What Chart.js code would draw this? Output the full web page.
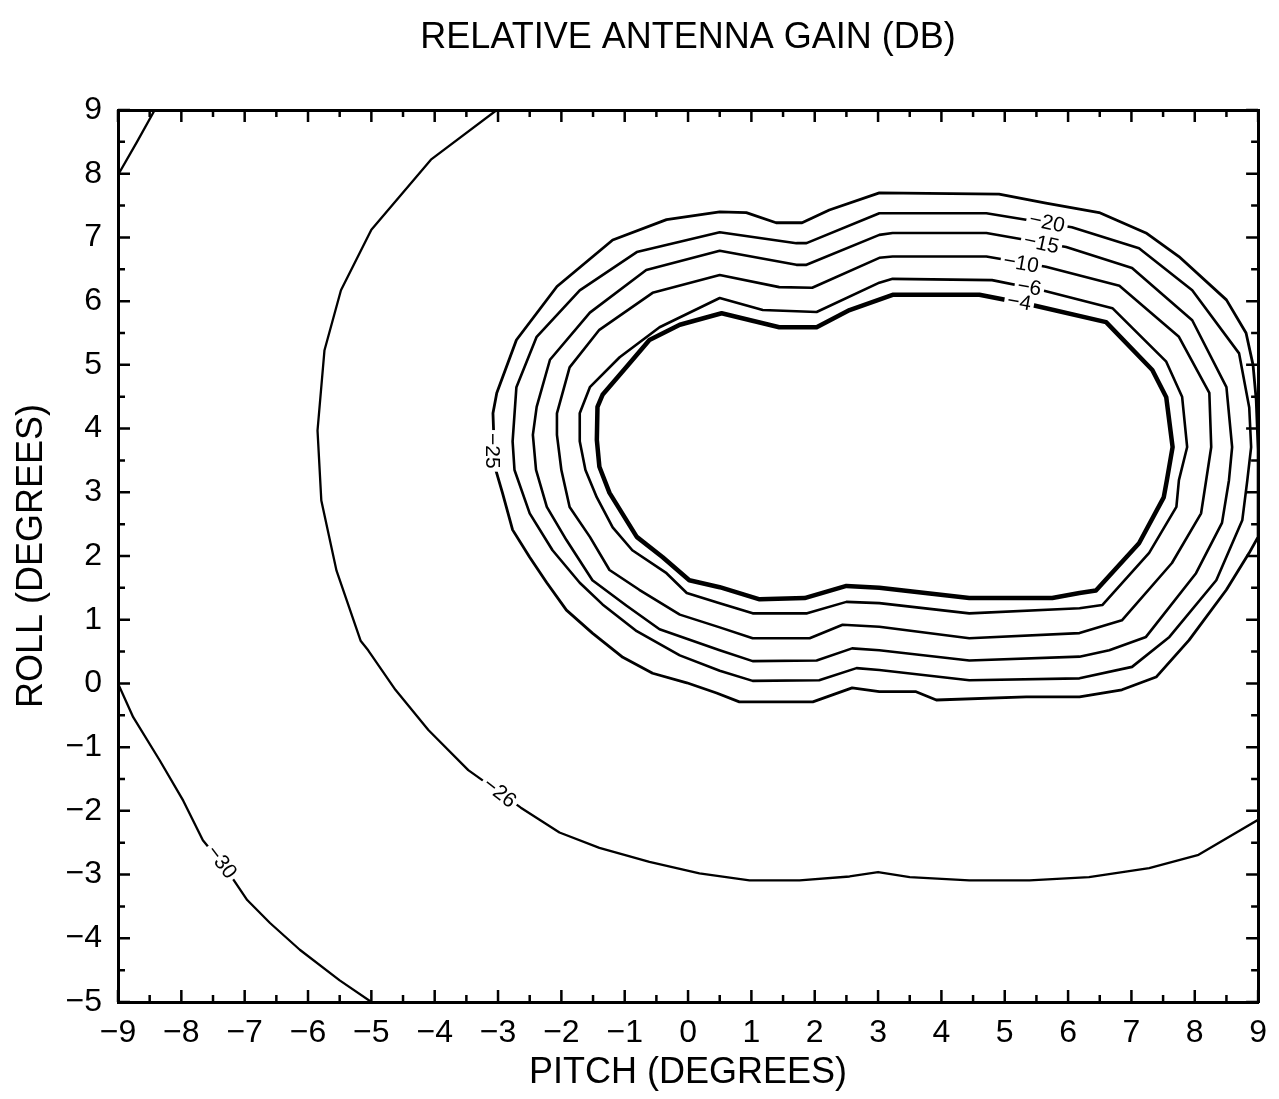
<!DOCTYPE html>
<html>
<head>
<meta charset="utf-8">
<script src="https://cdn.jsdelivr.net/npm/chart.js@4.4.1/dist/chart.umd.min.js"></script>
<style>
html,body{margin:0;padding:0;background:#ffffff;}
#wrap{width:1279px;height:1099px;position:relative;}
</style>
</head>
<body>
<div id="wrap"><canvas id="chart"></canvas></div>
<script>
// ---- tick labels ----
const pitchTicks = [-9,-8,-7,-6,-5,-4,-3,-2,-1,0,1,2,3,4,5,6,7,8,9];
const rollTicks = [-5,-4,-3,-2,-1,0,1,2,3,4,5,6,7,8,9];

// ---- contour lines, [pitch, roll] pairs (degrees) ----
const gainMinus4 = [[-1.40,3.40],[-1.44,3.82],[-1.43,4.34],[-1.35,4.53],[-0.97,4.97],[-0.61,5.39],[-0.13,5.63],[0.53,5.81],[1.44,5.59],[2.03,5.59],[2.55,5.86],[3.23,6.10],[4.60,6.10],[5.43,5.94],[6.60,5.67],[7.33,4.92],[7.55,4.49],[7.65,3.71],[7.56,3.19],[7.51,2.92],[7.12,2.20],[6.44,1.46],[6.18,1.42],[5.75,1.34],[4.44,1.34],[3.02,1.50],[2.50,1.53],[1.84,1.34],[1.13,1.32],[0.50,1.51],[0.02,1.62],[-0.40,1.98],[-0.81,2.30],[-1.24,2.99],[-1.40,3.40]];
const gainMinus6 = [[-1.62,3.35],[-1.71,3.80],[-1.71,4.24],[-1.55,4.65],[-1.08,5.12],[-0.45,5.59],[0.50,6.05],[1.18,5.86],[2.03,5.83],[3.02,6.29],[3.23,6.35],[4.80,6.33],[5.59,6.17],[6.70,5.89],[7.55,5.05],[7.80,4.50],[7.88,3.71],[7.75,3.19],[7.71,2.77],[7.28,2.05],[6.54,1.23],[6.18,1.18],[4.44,1.10],[3.02,1.26],[2.50,1.28],[1.88,1.10],[1.02,1.10],[0.50,1.26],[-0.02,1.42],[-0.34,1.73],[-0.88,2.09],[-1.19,2.45],[-1.44,2.92],[-1.62,3.35]];
const gainMinus10 = [[-2.00,3.35],[-2.07,3.90],[-2.07,4.24],[-1.87,4.96],[-1.40,5.55],[-0.56,6.13],[0.50,6.41],[1.44,6.22],[1.96,6.21],[3.02,6.68],[3.23,6.70],[4.71,6.70],[5.65,6.54],[6.81,6.24],[7.75,5.44],[8.23,4.56],[8.26,3.71],[8.18,3.19],[8.10,2.67],[7.64,1.89],[6.85,0.99],[6.18,0.79],[4.44,0.71],[3.02,0.89],[2.44,0.92],[1.92,0.71],[1.02,0.71],[0.50,0.88],[-0.13,1.08],[-0.77,1.47],[-1.24,1.78],[-1.55,2.30],[-1.87,2.77],[-2.00,3.35]];
const gainMinus15 = [[-2.40,3.35],[-2.45,3.90],[-2.39,4.34],[-2.18,5.08],[-1.55,5.82],[-0.66,6.49],[0.50,6.79],[1.71,6.57],[1.87,6.57],[3.02,7.04],[3.23,7.07],[4.71,7.07],[5.97,6.85],[7.01,6.52],[7.96,5.70],[8.50,4.65],[8.59,3.71],[8.54,3.19],[8.43,2.52],[8.02,1.73],[7.23,0.73],[6.65,0.52],[6.18,0.42],[4.44,0.36],[3.02,0.52],[2.59,0.55],[2.03,0.36],[1.02,0.35],[0.50,0.52],[-0.45,0.85],[-0.97,1.22],[-1.51,1.62],[-1.92,2.25],[-2.23,2.77],[-2.40,3.35]];
const gainMinus20 = [[-2.74,3.35],[-2.77,3.80],[-2.71,4.65],[-2.39,5.44],[-1.71,6.17],[-0.81,6.77],[0.50,7.08],[1.71,6.91],[1.87,6.91],[3.02,7.38],[3.23,7.38],[4.71,7.38],[6.06,7.16],[7.12,6.83],[7.96,6.17],[8.70,5.18],[8.86,4.33],[8.89,3.71],[8.83,3.19],[8.75,2.56],[8.34,1.62],[7.60,0.73],[7.01,0.26],[6.18,0.08],[4.44,0.05],[3.02,0.21],[2.66,0.24],[2.07,0.05],[1.02,0.04],[0.50,0.20],[-0.13,0.44],[-0.81,0.82],[-1.35,1.24],[-1.71,1.58],[-2.14,2.09],[-2.50,2.67],[-2.74,3.35]];
const gainMinus25 = [[-3.05,3.40],[-3.08,4.24],[-3.02,4.56],[-2.71,5.39],[-2.07,6.23],[-1.19,6.96],[-0.34,7.28],[0.50,7.40],[0.92,7.39],[1.39,7.23],[1.80,7.23],[2.23,7.43],[3.02,7.70],[4.91,7.68],[5.65,7.54],[6.49,7.39],[7.23,7.07],[7.75,6.70],[8.50,6.02],[8.81,5.50],[8.92,5.00],[8.97,4.45],[9.00,3.67],[9.00,2.30],[8.86,2.05],[8.50,1.47],[7.91,0.68],[7.39,0.10],[6.85,-0.10],[6.18,-0.21],[5.34,-0.21],[3.92,-0.26],[3.60,-0.13],[3.02,-0.13],[2.59,-0.07],[2.28,-0.18],[1.97,-0.29],[0.81,-0.29],[0.45,-0.15],[-0.02,0.01],[-0.56,0.16],[-1.03,0.41],[-1.51,0.79],[-1.92,1.15],[-2.23,1.58],[-2.50,1.98],[-2.77,2.41],[-2.93,2.99],[-3.05,3.40]];
const gainMinus26 = [[-3.02,9.00],[-4.06,8.22],[-5.00,7.12],[-5.48,6.17],[-5.74,5.23],[-5.85,3.97],[-5.79,2.87],[-5.55,1.77],[-5.17,0.67],[-5.05,0.52],[-4.62,-0.10],[-4.10,-0.73],[-3.47,-1.36],[-2.64,-1.95],[-2.03,-2.34],[-1.40,-2.58],[-0.61,-2.80],[0.18,-2.98],[0.97,-3.09],[1.76,-3.09],[2.55,-3.03],[3.00,-2.96],[3.50,-3.04],[4.44,-3.09],[5.39,-3.09],[6.33,-3.04],[7.28,-2.90],[8.06,-2.69],[9.00,-2.14]];
const gainMinus30Low = [[-9.00,0.00],[-8.76,-0.53],[-8.34,-1.21],[-7.97,-1.84],[-7.66,-2.46],[-7.30,-2.90],[-6.96,-3.40],[-6.60,-3.76],[-6.13,-4.18],[-5.50,-4.66],[-5.00,-5.00]];
const gainMinus30High = [[-9.00,7.98],[-8.70,8.50],[-8.42,9.00]];

// ---- contour labels ----
const labelTexts = ['\u221220','\u221215','\u221210','\u22126','\u22124','\u221225','\u221226','\u221230'];
const labelPitch = [5.67,5.58,5.26,5.39,5.23,-3.09,-2.97,-7.36];
const labelRoll  = [7.24,6.91,6.60,6.22,5.99,3.65,-1.71,-2.80];
const labelAngle = [12,12,10,10,10,90,38,53];

const FONT = "'Liberation Sans', Arial, sans-serif";
const toXY = arr => arr.map(p => ({x: p[0], y: p[1]}));
const fmt = v => (v < 0 ? '\u2212' + Math.abs(v) : String(v));

function line(label, arr, width) {
  return {label, data: toXY(arr), showLine: true, borderColor: '#000', backgroundColor: '#000',
    borderWidth: width, pointRadius: 0, pointHoverRadius: 0, fill: false, tension: 0,
    borderJoinStyle: 'round', borderCapStyle: 'round'};
}

const frameTicks = {
  id: 'frameTicks',
  afterDraw(chart) {
    const {ctx, chartArea: a, scales: {x, y}} = chart;
    ctx.save();
    ctx.strokeStyle = '#000';
    ctx.lineWidth = 2.5;
    ctx.beginPath();
    const x0 = pitchTicks[0], x1 = pitchTicks[pitchTicks.length - 1];
    for (let v = x0; v <= x1 + 1e-9; v += 0.5) {
      const px = x.getPixelForValue(v);
      const len = Number.isInteger(v) ? 12 : 7;
      ctx.moveTo(px, a.bottom); ctx.lineTo(px, a.bottom - len);
      ctx.moveTo(px, a.top); ctx.lineTo(px, a.top + len);
    }
    const y0 = rollTicks[0], y1 = rollTicks[rollTicks.length - 1];
    for (let v = y0; v <= y1 + 1e-9; v += 0.5) {
      const py = y.getPixelForValue(v);
      const len = Number.isInteger(v) ? 12 : 7;
      ctx.moveTo(a.left, py); ctx.lineTo(a.left + len, py);
      ctx.moveTo(a.right, py); ctx.lineTo(a.right - len, py);
    }
    ctx.stroke();
    ctx.restore();
  }
};

const contourLabels = {
  id: 'contourLabels',
  afterDatasetsDraw(chart) {
    const {ctx, scales: {x, y}} = chart;
    ctx.save();
    ctx.font = '21px ' + FONT;
    ctx.textAlign = 'center';
    ctx.textBaseline = 'middle';
    labelTexts.forEach((t, i) => {
      const px = x.getPixelForValue(labelPitch[i]);
      const py = y.getPixelForValue(labelRoll[i]);
      ctx.save();
      ctx.translate(px, py);
      ctx.rotate(labelAngle[i] * Math.PI / 180);
      const w = ctx.measureText(t).width;
      ctx.fillStyle = '#fff';
      ctx.fillRect(-w / 2 - 3, -9, w + 6, 18);
      ctx.fillStyle = '#000';
      ctx.fillText(t, 0, 1);
      ctx.restore();
    });
    ctx.restore();
  }
};

const tickFont = {family: FONT, size: 32};
const titleFont = {family: FONT, size: 36};

new Chart(document.getElementById('chart'), {
  type: 'scatter',
  data: {
    datasets: [
      line('-4 dB', gainMinus4, 4.5),
      line('-6 dB', gainMinus6, 2.6),
      line('-10 dB', gainMinus10, 2.6),
      line('-15 dB', gainMinus15, 2.6),
      line('-20 dB', gainMinus20, 2.6),
      line('-25 dB', gainMinus25, 2.8),
      line('-26 dB', gainMinus26, 2.3),
      line('-30 dB', gainMinus30Low, 2.3),
      line('-30 dB (upper)', gainMinus30High, 2.3)
    ]
  },
  options: {
    responsive: true,
    maintainAspectRatio: false,
    animation: false,
    events: [],
    layout: {padding: 0},
    plugins: {legend: {display: false}, tooltip: {enabled: false}, title: {display: false}},
    scales: {
      x: {
        type: 'linear', position: 'bottom', min: -9, max: 9,
        afterBuildTicks: s => { s.ticks = pitchTicks.map(v => ({value: v})); },
        afterFit: s => { s.height = 97; },
        ticks: {callback: v => fmt(v), font: tickFont, color: '#000', padding: 12, maxRotation: 0, autoSkip: false},
        grid: {display: true, drawOnChartArea: false, drawTicks: false},
        border: {display: true, color: '#000', width: 3},
        title: {display: true, text: 'PITCH (DEGREES)', font: titleFont, color: '#000', padding: {top: 0, bottom: 4}}
      },
      x2: {
        type: 'linear', position: 'top', min: -9, max: 9,
        afterFit: s => { s.height = 110; },
        ticks: {display: false},
        grid: {display: true, drawOnChartArea: false, drawTicks: false},
        border: {display: true, color: '#000', width: 3},
        title: {display: true, text: 'RELATIVE ANTENNA GAIN (DB)', font: titleFont, color: '#000', padding: {top: 16, bottom: 0}}
      },
      y: {
        type: 'linear', position: 'left', min: -5, max: 9,
        afterBuildTicks: s => { s.ticks = rollTicks.map(v => ({value: v})); },
        afterFit: s => { s.width = 118; },
        ticks: {callback: v => fmt(v), font: tickFont, color: '#000', padding: 16, autoSkip: false},
        grid: {display: true, drawOnChartArea: false, drawTicks: false},
        border: {display: true, color: '#000', width: 3},
        title: {display: true, text: 'ROLL (DEGREES)', font: titleFont, color: '#000', padding: {top: 10, bottom: 0}}
      },
      y2: {
        type: 'linear', position: 'right', min: -5, max: 9,
        afterFit: s => { s.width = 20; },
        ticks: {display: false},
        grid: {display: true, drawOnChartArea: false, drawTicks: false},
        border: {display: true, color: '#000', width: 3}
      }
    }
  },
  plugins: [frameTicks, contourLabels]
});
</script>
</body>
</html>
